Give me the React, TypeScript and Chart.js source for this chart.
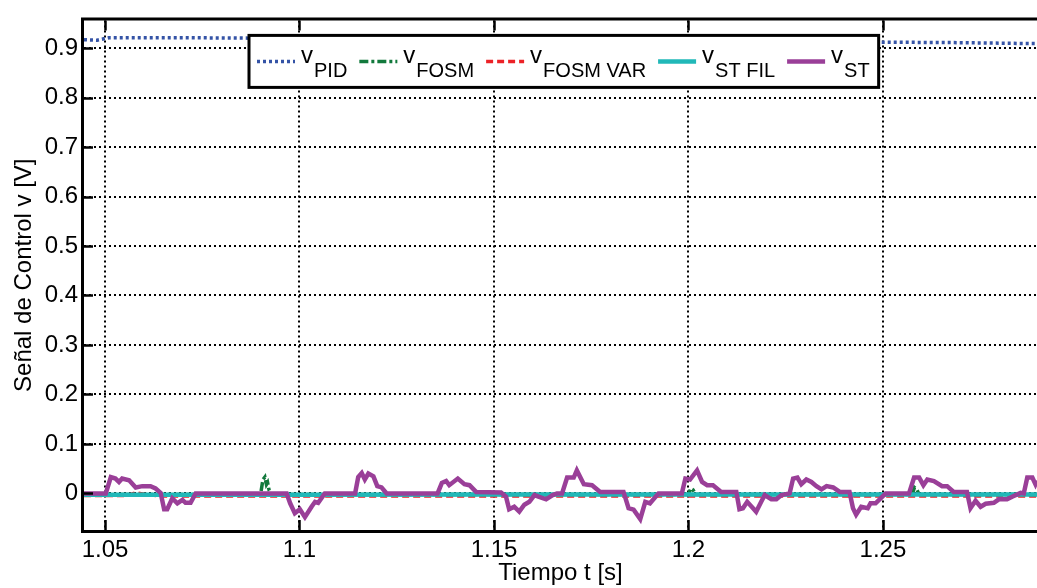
import React, { useEffect, useRef } from "react";
import { Chart, registerables } from "chart.js";

Chart.register(...registerables);

const FONT = "'Liberation Sans', Arial, Helvetica, sans-serif";

// ---- axes ----
const xTicks = [1.05, 1.1, 1.15, 1.2, 1.25];
const xTickLabels = ["1.05", "1.1", "1.15", "1.2", "1.25"];
const yTicks = [0, 0.1, 0.2, 0.3, 0.4, 0.5, 0.6, 0.7, 0.8, 0.9];
const yTickLabels = ["0", "0.1", "0.2", "0.3", "0.4", "0.5", "0.6", "0.7", "0.8", "0.9"];
const xMin = 1.0446;
const xMax = 1.2896;
const yMin = -0.074;
const yMax = 0.956;

const xTitle = "Tiempo t [s]";
const yTitle = "Señal de Control v [V]";

// ---- legend ----
const legendMain = ["v", "v", "v", "v", "v"];
const legendSub = ["PID", "FOSM", "FOSM VAR", "ST FIL", "ST"];

// ---- v_PID ----
const pidTime = [1.0446, 1.048, 1.051, 1.07, 1.09, 1.11, 1.15, 1.19, 1.23, 1.25, 1.27, 1.2896];
const pidValue = [0.917, 0.916, 0.921, 0.921, 0.92, 0.919, 0.917, 0.915, 0.913, 0.912, 0.911, 0.909];

// ---- v_FOSM ----
const fosmTime = [1.0446, 1.07, 1.09, 1.0906, 1.0911, 1.0915, 1.0918, 1.0922, 1.093, 1.15, 1.2, 1.2006, 1.2012, 1.2018, 1.2575, 1.2581, 1.2587, 1.2593, 1.2896];
const fosmValue = [-0.002, -0.002, -0.002, 0.028, 0.033, 0.018, 0.022, 0.006, -0.002, -0.002, -0.002, 0.01, 0.007, -0.002, -0.002, 0.012, 0.008, -0.002, -0.002];

// ---- v_FOSM VAR ----
const fosmVarTime = [1.0446, 1.055, 1.058, 1.061, 1.065, 1.1, 1.15, 1.2, 1.25, 1.2896];
const fosmVarValue = [-0.005, -0.005, 0.002, -0.003, -0.006, -0.006, -0.006, -0.006, -0.006, -0.006];

// ---- v_ST FIL ----
const stFilTime = [1.0446, 1.1, 1.15, 1.2, 1.25, 1.2896];
const stFilValue = [-0.003, -0.003, -0.002, -0.002, -0.002, -0.002];

// ---- v_ST ----
const stTime = [
  1.0446, 1.0502, 1.0515, 1.0527, 1.0536, 1.0544, 1.0562, 1.0579, 1.0596, 1.0617,
  1.063, 1.0643, 1.0652, 1.066, 1.0673, 1.0686, 1.0699, 1.0707, 1.072, 1.0733,
  1.0967, 1.0976, 1.0988, 1.1001, 1.1014, 1.1031, 1.104, 1.1048, 1.1065, 1.1143,
  1.1151, 1.116, 1.1168, 1.1177, 1.119, 1.12, 1.1211, 1.1224, 1.1355, 1.1366,
  1.1377, 1.1385, 1.1407, 1.1424, 1.1437, 1.1454, 1.1518, 1.1531, 1.1539, 1.1552,
  1.1565, 1.1578, 1.1591, 1.1604, 1.1616, 1.1634, 1.1651, 1.1662, 1.1675, 1.1688,
  1.1705, 1.1713, 1.1731, 1.1752, 1.1773, 1.1833, 1.1846, 1.1859, 1.1876, 1.1889,
  1.1901, 1.1923, 1.1983, 1.1992, 1.2004, 1.2022, 1.2035, 1.2048, 1.2063, 1.2084,
  1.2123, 1.2131, 1.214, 1.2151, 1.2166, 1.2174, 1.2187, 1.2196, 1.2213, 1.2226,
  1.2239, 1.226, 1.2269, 1.228, 1.229, 1.2303, 1.2316, 1.2329, 1.2342, 1.2355,
  1.2372, 1.2389, 1.2414, 1.2423, 1.2431, 1.2444, 1.2461, 1.2468, 1.2481, 1.2494,
  1.2507, 1.2567, 1.258, 1.2593, 1.2604, 1.2614, 1.2631, 1.2652, 1.2665, 1.2682,
  1.2716, 1.2725, 1.2738, 1.2751, 1.2764, 1.2785, 1.2798, 1.2819, 1.2832, 1.2854,
  1.2862, 1.2871, 1.2884, 1.2892, 1.2896,
];
const stValue = [
  0, 0, 0.033, 0.03, 0.023, 0.03, 0.0265, 0.012, 0.0146, 0.0146,
  0.01, 0.001, -0.032, -0.032, -0.01, -0.02, -0.013, -0.019, -0.019, 0,
  0, -0.02, -0.04, -0.032, -0.048, -0.027, -0.017, -0.019, 0, 0,
  0.033, 0.041, 0.028, 0.04, 0.0345, 0.0146, 0.012, 0, 0, 0.021,
  0.025, 0.0166, 0.03, 0.0186, 0.0166, 0.003, 0.002, -0.007, -0.032, -0.027,
  -0.037, -0.023, -0.017, -0.0034, -0.007, -0.012, -0.0034, 0, 0, 0.032,
  0.032, 0.0465, 0.0186, 0.0166, 0.003, 0.003, -0.03, -0.033, -0.052, -0.017,
  -0.02, 0, 0, 0.03, 0.028, 0.0465, 0.023, 0.0166, 0.0166, 0.003,
  0.003, -0.032, -0.03, -0.017, -0.03, -0.037, -0.017, -0.0034, -0.012, -0.012,
  -0.0034, 0, 0.03, 0.032, 0.0186, 0.028, 0.023, 0.0146, 0.008, 0.0146,
  0.012, 0.003, 0.003, -0.03, -0.043, -0.027, -0.03, -0.02, -0.02, -0.01,
  0, 0, 0.032, 0.032, 0.0166, 0.028, 0.025, 0.0146, 0.0146, 0.003,
  0.003, -0.03, -0.015, -0.027, -0.021, -0.019, -0.012, -0.012, -0.0068, 0.001,
  0, 0.032, 0.032, 0.0186, 0.026,
];

const COLORS = {
  pid: "#3453a6",
  fosm: "#12793c",
  fosmVar: "#ec2227",
  stFil: "#21b8b8",
  st: "#9a3f98",
};

const toXY = (xs: number[], ys: number[]) => xs.map((x, i) => ({ x, y: ys[i] }));

const framePlugin = {
  id: "frameAndLegend",
  afterDraw(chart: any) {
    const { ctx, chartArea } = chart;
    const xs = chart.scales.x;
    const ys = chart.scales.y;
    const { left, top, bottom, right } = chartArea;
    ctx.save();
    ctx.strokeStyle = "#000";
    ctx.setLineDash([]);
    // frame
    ctx.lineWidth = 3;
    ctx.beginPath();
    ctx.moveTo(right + 5, top - 1.5);
    ctx.lineTo(left - 1.5, top - 1.5);
    ctx.lineTo(left - 1.5, bottom + 1.5);
    ctx.lineTo(right + 5, bottom + 1.5);
    ctx.stroke();
    // inward ticks
    ctx.lineWidth = 2.5;
    ctx.beginPath();
    xTicks.forEach((v) => {
      const px = Math.round(xs.getPixelForValue(v)) + 0.5;
      ctx.moveTo(px, bottom);
      ctx.lineTo(px, bottom - 10);
      ctx.moveTo(px, top);
      ctx.lineTo(px, top + 10);
    });
    yTicks.forEach((v) => {
      const py = Math.round(ys.getPixelForValue(v)) + 0.5;
      ctx.moveTo(left, py);
      ctx.lineTo(left + 9, py);
    });
    ctx.stroke();

    // legend
    const datasets = chart.data.datasets;
    const boxLeft = left + 165;
    const boxTop = top + 15;
    const boxH = 52;
    const sampleLen = 38;
    const mainFont = `24px ${FONT}`;
    const subFont = `20px ${FONT}`;
    const sampleY = boxTop + 26;
    const mainBase = boxTop + 28;
    const subBase = boxTop + 42;
    let x = boxLeft + 8;
    const items: any[] = [];
    datasets.forEach((ds: any, i: number) => {
      ctx.font = mainFont;
      const mw = ctx.measureText(legendMain[i]).width;
      ctx.font = subFont;
      const sw = ctx.measureText(legendSub[i]).width;
      items.push({ ds, x, mw, sw });
      x += sampleLen + 6 + mw + 1 + sw + 12;
    });
    const boxW = x - boxLeft - 3;
    ctx.fillStyle = "#fff";
    ctx.fillRect(boxLeft, boxTop, boxW, boxH);
    ctx.lineWidth = 3;
    ctx.strokeStyle = "#000";
    ctx.strokeRect(boxLeft, boxTop, boxW, boxH);
    items.forEach((it, i) => {
      const ds = it.ds;
      ctx.save();
      ctx.strokeStyle = ds.borderColor;
      ctx.lineWidth = Math.max(ds.borderWidth, 3.5);
      ctx.setLineDash(ds.borderDash || []);
      ctx.beginPath();
      ctx.moveTo(it.x, sampleY);
      ctx.lineTo(it.x + sampleLen, sampleY);
      ctx.stroke();
      ctx.restore();
      ctx.fillStyle = "#000";
      ctx.textBaseline = "alphabetic";
      ctx.textAlign = "left";
      ctx.font = mainFont;
      const tx = it.x + sampleLen + 6;
      ctx.fillText(legendMain[i], tx, mainBase);
      ctx.font = subFont;
      ctx.fillText(legendSub[i], tx + it.mw + 1, subBase);
    });
    ctx.restore();
  },
};

export default function App() {
  const ref = useRef<HTMLCanvasElement | null>(null);
  useEffect(() => {
    if (!ref.current) return;
    const line = (label: string, xs: number[], ys: number[], color: string, width: number, dash: number[], order: number) => ({
      label,
      data: toXY(xs, ys),
      borderColor: color,
      backgroundColor: color,
      borderWidth: width,
      borderDash: dash,
      pointRadius: 0,
      tension: 0,
      fill: false,
      order,
    });
    const chart = new Chart(ref.current, {
      type: "line",
      data: {
        datasets: [
          line("v PID", pidTime, pidValue, COLORS.pid, 3.5, [3, 3], 4),
          line("v FOSM", fosmTime, fosmValue, COLORS.fosm, 3.5, [9, 3, 3, 3], 2),
          line("v FOSM VAR", fosmVarTime, fosmVarValue, COLORS.fosmVar, 3, [7, 4], 3),
          line("v ST FIL", stFilTime, stFilValue, COLORS.stFil, 4.5, [], 1),
          line("v ST", stTime, stValue, COLORS.st, 4.5, [], 0),
        ],
      },
      options: {
        responsive: false,
        animation: false,
        layout: { autoPadding: false, padding: { left: 0, right: 0, top: 14, bottom: 0 } },
        plugins: { legend: { display: false }, tooltip: { enabled: false } },
        scales: {
          x: {
            type: "linear",
            min: xMin,
            max: xMax,
            afterBuildTicks: (s: any) => {
              s.ticks = xTicks.map((v) => ({ value: v }));
            },
            afterFit: (s: any) => {
              s.height = 58;
            },
            ticks: {
              padding: 6,
              color: "#000",
              font: { family: FONT, size: 24 },
              maxRotation: 0,
              autoSkip: false,
              callback: (_v: any, i: number) => xTickLabels[i],
            },
            grid: { color: "#000", lineWidth: 2, drawTicks: false },
            border: { display: false, dash: [2, 3] },
            title: {
              display: true,
              text: xTitle,
              color: "#000",
              font: { family: FONT, size: 24 },
              padding: { top: 0, bottom: 0 },
            },
          },
          y: {
            type: "linear",
            min: yMin,
            max: yMax,
            afterBuildTicks: (s: any) => {
              s.ticks = yTicks.map((v) => ({ value: v }));
            },
            afterFit: (s: any) => {
              s.width = 84;
            },
            ticks: {
              padding: 6,
              color: "#000",
              font: { family: FONT, size: 24 },
              autoSkip: false,
              callback: (_v: any, i: number) => yTickLabels[i],
            },
            grid: { color: "#000", lineWidth: 2, drawTicks: false },
            border: { display: false, dash: [2, 3] },
            title: {
              display: true,
              text: yTitle,
              color: "#000",
              font: { family: FONT, size: 24 },
              padding: { top: 10, bottom: 0 },
            },
          },
        },
      },
      plugins: [framePlugin],
    } as any);
    return () => chart.destroy();
  }, []);
  return (
    <div style={{ position: "absolute", left: 0, top: 0, width: 1037, height: 588, background: "#fff" }}>
      <canvas ref={ref} width={1037} height={588} style={{ display: "block" }} />
    </div>
  );
}
